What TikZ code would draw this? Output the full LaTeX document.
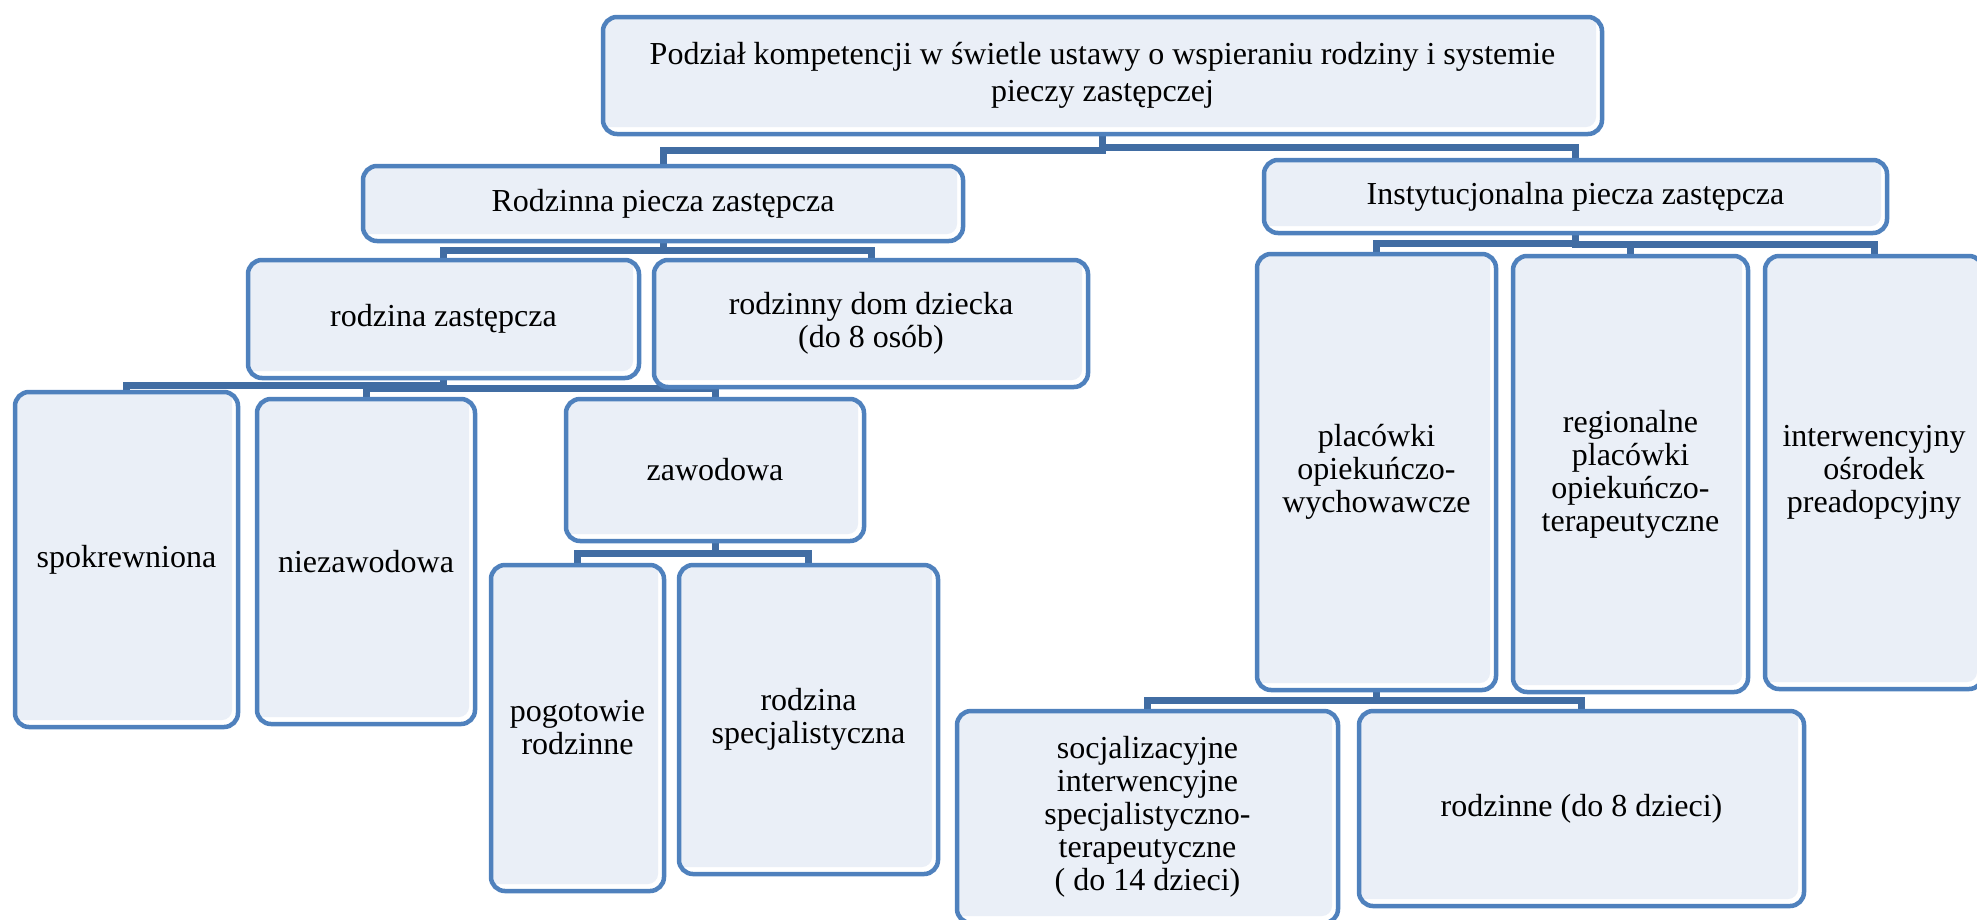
\documentclass[tikz,border=0pt]{standalone}
\usepackage{fontspec}
\setmainfont{Liberation Serif}
\usepackage{xcolor}
\definecolor{cEdge}{HTML}{4F81BD}
\definecolor{cFill}{HTML}{EAEFF7}
\definecolor{cLink}{HTML}{416DA3}
\usepackage{tikz}
\usetikzlibrary{calc,backgrounds}
\tikzset{
  node-box/.style={draw=cEdge,line width=4.5pt,rounded corners=14pt,fill=white,
    align=center,inner sep=0pt,
    path picture={\fill[cFill,rounded corners=10pt]
      ([xshift=-5pt,yshift=5pt]path picture bounding box.north west) rectangle
      ([xshift=-6pt,yshift=7pt]path picture bounding box.south east);}},
  % elbow connector: down to half height, across, down
  link/.style={line width=7pt,draw=cLink,
    to path={|- ($(\tikztostart)!.5!(\tikztotarget)$) -| (\tikztotarget)}},
}

\begin{document}
\begin{tikzpicture}[x=1pt,y=-1pt,font=\fontsize{32}{33}\selectfont]
  \useasboundingbox (0,0) rectangle (1977,919);
  \node[node-box,minimum width=999pt,minimum height=117pt,font=\fontsize{32}{37}\selectfont] (podzial) at (1102.5,75.5)
    {Podział kompetencji w świetle ustawy o wspieraniu rodziny i systemie\\pieczy zastępczej};
  \node[node-box,minimum width=600pt,minimum height=75pt] (rodzinna) at (663,203.5) {Rodzinna piecza zastępcza};
  \node[node-box,minimum width=623pt,minimum height=73pt] (inst) at (1575.5,196.5) {Instytucjonalna piecza zastępcza};
  \node[node-box,minimum width=391pt,minimum height=118pt] (rz) at (443.5,319) {rodzina zastępcza};
  \node[node-box,minimum width=434pt,minimum height=127pt] (rdd) at (871,323.5) {rodzinny dom dziecka\\(do 8 osób)};
  \node[node-box,minimum width=223pt,minimum height=335pt] (spok) at (126.5,559.5) {spokrewniona};
  \node[node-box,minimum width=218pt,minimum height=325pt] (niezaw) at (366,561.5) {niezawodowa};
  \node[node-box,minimum width=298pt,minimum height=142pt] (zaw) at (715,470) {zawodowa};
  \node[node-box,minimum width=173pt,minimum height=326pt] (pog) at (577.5,728) {pogotowie\\rodzinne};
  \node[node-box,minimum width=259pt,minimum height=309pt] (rspec) at (808.5,719.5) {rodzina\\specjalistyczna};
  \node[node-box,minimum width=239pt,minimum height=436pt] (plac) at (1376.5,472) {placówki\\opiekuńczo-\\wychowawcze};
  \node[node-box,minimum width=235pt,minimum height=436pt] (reg) at (1630.5,474) {regionalne\\placówki\\opiekuńczo-\\terapeutyczne};
  \node[node-box,minimum width=218pt,minimum height=433pt] (interw) at (1874,472.5) {interwencyjny\\ośrodek\\preadopcyjny};
  \node[node-box,minimum width=381pt,minimum height=212pt] (socj) at (1147.5,817)
    {socjalizacyjne\\interwencyjne\\specjalistyczno-\\terapeutyczne\\( do 14 dzieci)};
  \node[node-box,minimum width=445pt,minimum height=195pt] (rodz8) at (1581.5,808.5) {rodzinne (do 8 dzieci)};

  \begin{scope}[on background layer]
    \draw[link] (podzial.south) to (rodzinna.north);
    \draw[link] (podzial.south) to (inst.north);
    \draw[link] (rodzinna.south) to (rz.north);
    \draw[link] (rodzinna.south) to (rdd.north);
    \draw[link] (rz.south) to (spok.north);
    \draw[link] (rz.south) to (niezaw.north);
    \draw[link] (rz.south) to (zaw.north);
    \draw[link] (zaw.south) to (pog.north);
    \draw[link] (zaw.south) to (rspec.north);
    \draw[link] (inst.south) to (plac.north);
    \draw[link] (inst.south) to (reg.north);
    \draw[link] (inst.south) to (interw.north);
    \draw[link] (plac.south) to (socj.north);
    \draw[link] (plac.south) to (rodz8.north);
  \end{scope}
\end{tikzpicture}
\end{document}
